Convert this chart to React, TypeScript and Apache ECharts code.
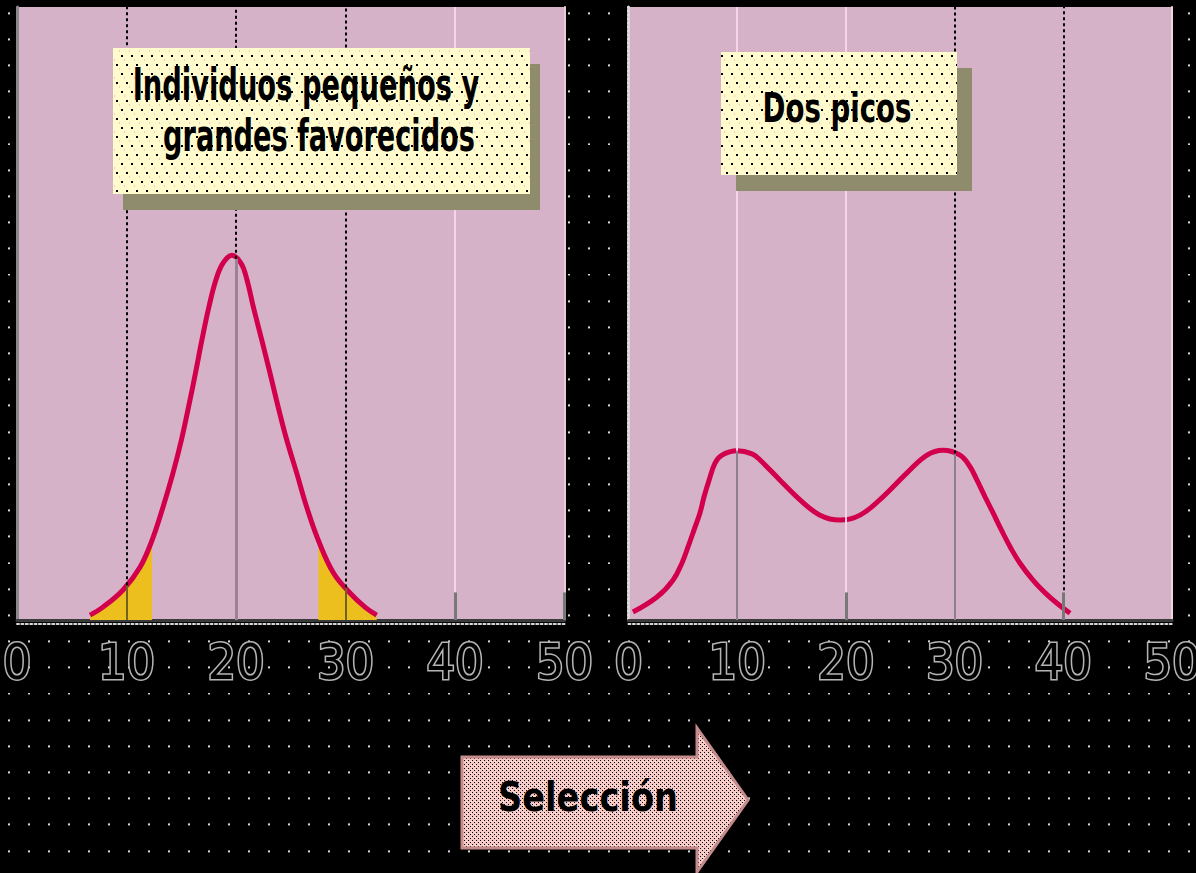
import React, { useEffect, useRef } from "react";
import * as echarts from "echarts";

// ---- data -------------------------------------------------------------
const X_TICKS = [0, 10, 20, 30, 40, 50];
const Y_MAX = 100;

// Starting population: a single peak around 20
const LEFT_X = [6.67, 7.85, 9.68, 11.23, 12.33, 13.33, 14.25, 15.02, 15.66, 16.3, 16.89, 17.53, 18.17, 18.81, 19.63, 20.46, 21.0, 21.58, 22.35, 23.1, 23.86, 24.63, 25.54, 26.46, 27.52, 28.89, 30.41, 31.78, 32.85];
const LEFT_Y = [0.8, 2.1, 4.9, 8.6, 13.0, 18.4, 24.0, 29.4, 34.7, 40.3, 45.7, 51.1, 55.5, 58.2, 59.5, 58.2, 55.5, 51.1, 45.7, 40.3, 34.7, 29.4, 24.0, 18.4, 13.0, 7.7, 4.4, 2.1, 0.8];

// After selection: two peaks near 10 and 30
const RIGHT_X = [0.41, 2.62, 4.09, 4.92, 5.47, 6.03, 6.58, 6.95, 7.41, 7.96, 8.6, 9.98, 11.36, 12.1, 13.94, 15.78, 17.62, 19.46, 21.3, 23.41, 25.62, 27.46, 28.93, 30.5, 31.42, 32.06, 32.8, 33.53, 34.3, 35.15, 36.0, 37.21, 38.4, 39.5, 40.62];
const RIGHT_Y = [1.3, 3.75, 6.5, 9.3, 11.9, 14.7, 17.5, 20.1, 22.8, 25.6, 26.9, 27.6, 27.1, 26.1, 22.8, 19.6, 17.1, 16.3, 17.1, 20.1, 24.0, 26.9, 27.7, 26.9, 25.0, 22.8, 20.1, 17.5, 14.7, 11.8, 9.3, 6.5, 4.3, 2.6, 1.1];

// Tails favoured by selection (shaded)
const FAVOURED_SMALL_MAX = 12.4;
const FAVOURED_LARGE_MIN = 27.5;

const GUIDE_XS = [10, 20, 30, 40];
const LEFT_STUBS = [40, 50];
const RIGHT_STUBS = [20, 40];
const STUB_HEIGHT = 4.5;

const LEFT_TITLE = ["Individuos pequeños y", "grandes favorecidos"];
const RIGHT_TITLE = "Dos picos";
const ARROW_LABEL = "Selección";

// ---- look -------------------------------------------------------------
const NARROW = '"Liberation Sans Narrow", "DejaVu Sans Condensed", "Liberation Sans", sans-serif';
const PANEL_BG = "#d6b2c8";
const CURVE = "#d2004c";
const YELLOW = "#ecbe1e";
const SMOOTH = 0.4;

const DOTTED = { color: "#000000", width: 2, type: [3, 3] };
const PINK = { color: "#f6d4ea", width: 2, type: "solid" };
const GRAY = { color: "#8c8090", width: 2, type: "solid" };
const OLIVE = { color: "#6e6420", width: 2, type: "solid" };
const MAUVE = { color: "#9a8494", width: 3, type: "solid" };
const STUB = { color: "#787878", width: 3, type: "solid" };

const LEFT_GUIDE_STYLE: Record<number, any[]> = { 10: [DOTTED, OLIVE], 20: [DOTTED, MAUVE], 30: [DOTTED, OLIVE], 40: [PINK, PINK] };
const RIGHT_GUIDE_STYLE: Record<number, any[]> = { 10: [PINK, GRAY], 20: [PINK, PINK], 30: [DOTTED, GRAY], 40: [DOTTED, PINK] };

const W = 1196;
const H = 873;
const GRIDS = [
  { left: 17, top: 7, width: 547.5, height: 613 },
  { left: 628.5, top: 7, width: 543.5, height: 613 },
];

const DOT_BG = `url("data:image/svg+xml,${encodeURIComponent(
  "<svg xmlns='http://www.w3.org/2000/svg' width='20' height='26.2'><rect x='8' y='12' width='2' height='2' fill='#d6d6d6'/></svg>"
)}")`;

function tile(w: number, h: number, base: string, dots: [number, number, number, number, string][]) {
  const c = document.createElement("canvas");
  c.width = w;
  c.height = h;
  const g = c.getContext("2d")!;
  g.fillStyle = base;
  g.fillRect(0, 0, w, h);
  dots.forEach(([x, y, dw, dh, col]) => {
    g.fillStyle = col;
    g.fillRect(x, y, dw, dh);
  });
  return { image: c.toDataURL(), repeat: "repeat", imageWidth: w, imageHeight: h };
}

function textWidth(text: string, font: string) {
  const c = document.createElement("canvas").getContext("2d")!;
  c.font = font;
  return c.measureText(text).width;
}

function pairs(xs: number[], ys: number[]) {
  return xs.map((x, i) => [x, ys[i]]);
}

function curveAt(xs: number[], ys: number[], x: number) {
  if (x < xs[0] || x > xs[xs.length - 1]) return 0;
  for (let i = 1; i < xs.length; i++) {
    if (x <= xs[i]) {
      const t = (x - xs[i - 1]) / (xs[i] - xs[i - 1]);
      return ys[i - 1] + t * (ys[i] - ys[i - 1]);
    }
  }
  return 0;
}

function guideLines(xs: number[], ys: number[], styles: Record<number, any[]>, stubs: number[]) {
  const out: any[] = [];
  GUIDE_XS.forEach((gx) => {
    const h = curveAt(xs, ys, gx);
    const [above, below] = styles[gx];
    if (h > 0) out.push([{ coord: [gx, 0], lineStyle: below }, { coord: [gx, h] }]);
    out.push([{ coord: [gx, h], lineStyle: above }, { coord: [gx, Y_MAX] }]);
  });
  stubs.forEach((sx) => out.push([{ coord: [sx, 0], lineStyle: STUB }, { coord: [sx, STUB_HEIGHT] }]));
  return out;
}

function fittedText(text: string, cx: number, cy: number, width: number, size: number) {
  const font = `bold ${size}px ${NARROW}`;
  const s = width / textWidth(text, font);
  return {
    type: "group",
    x: cx,
    y: cy,
    scaleX: s,
    z: 110,
    children: [
      {
        type: "text",
        z: 110,
        style: { text, x: 0, y: 0, font, fill: "#000", align: "center", verticalAlign: "middle", textAlign: "center", textVerticalAlign: "middle" },
      },
    ],
  };
}

function buildOption() {
  const boxFill = tile(10, 18, "#fffbcc", [
    [1, 1, 2, 2, "#000"],
    [6, 10, 2, 2, "#000"],
    [4, 5, 1, 2, "#f6c8c8"],
    [9, 14, 1, 2, "#f6c8c8"],
  ]);
  const arrowFill = tile(4, 4, "#f7c8c8", [
    [0, 0, 1, 1, "#000"],
    [2, 2, 1, 1, "#000"],
    [3, 1, 1, 1, "#fff6d0"],
  ]);

  const axisLabel = {
    show: true,
    margin: 17,
    fontSize: 50,
    fontFamily: NARROW,
    color: "#000",
    textBorderColor: "#b4b4b4",
    textBorderWidth: 3,
    showMinLabel: true,
    showMaxLabel: true,
  };

  const mainX = (gi: number) => ({
    gridIndex: gi,
    type: "value",
    min: X_TICKS[0],
    max: X_TICKS[X_TICKS.length - 1],
    interval: X_TICKS[1] - X_TICKS[0],
    axisLine: { show: true, onZero: false, lineStyle: { color: "#3a3a3a", width: 3 } },
    axisTick: { show: false },
    splitLine: { show: false },
    axisLabel,
  });
  const dashX = (gi: number) => ({
    gridIndex: gi,
    type: "value",
    position: "bottom",
    offset: 4,
    min: X_TICKS[0],
    max: X_TICKS[X_TICKS.length - 1],
    axisLine: { show: true, onZero: false, lineStyle: { color: "#d8d8d8", width: 2, type: [2, 2.4] } },
    axisTick: { show: false },
    splitLine: { show: false },
    axisLabel: { show: false },
  });
  const yAx = (gi: number, position: string, lineStyle: any) => ({
    gridIndex: gi,
    type: "value",
    position,
    min: 0,
    max: Y_MAX,
    axisLine: { show: true, onZero: false, lineStyle },
    axisTick: { show: false },
    splitLine: { show: false },
    axisLabel: { show: false },
  });

  const curveSeries = (xi: number, yi: number, xs: number[], ys: number[]) => ({
    type: "line",
    xAxisIndex: xi,
    yAxisIndex: yi,
    data: pairs(xs, ys),
    smooth: SMOOTH,
    showSymbol: false,
    symbol: "none",
    silent: true,
    z: 4,
    lineStyle: { color: CURVE, width: 5 },
  });
  const guideSeries = (xi: number, yi: number, xs: number[], ys: number[], styles: any, stubs: number[]) => ({
    type: "line",
    xAxisIndex: xi,
    yAxisIndex: yi,
    data: pairs(xs, ys),
    showSymbol: false,
    symbol: "none",
    silent: true,
    z: 3,
    lineStyle: { opacity: 0 },
    markLine: { symbol: ["none", "none"], silent: true, label: { show: false }, animation: false, data: guideLines(xs, ys, styles, stubs) },
  });
  const tailSeries = (data: number[][]) => ({
    type: "line",
    xAxisIndex: 0,
    yAxisIndex: 0,
    data,
    smooth: SMOOTH,
    showSymbol: false,
    symbol: "none",
    silent: true,
    z: 2,
    lineStyle: { width: 0 },
    areaStyle: { color: YELLOW, opacity: 1 },
  });

  const leftPts = pairs(LEFT_X, LEFT_Y);

  // text boxes and arrow
  const box = (x: number, y: number, w: number, h: number, dx: number, dy: number) => [
    { type: "rect", z: 100, shape: { x: x + dx, y: y + dy, width: w, height: h }, style: { fill: "#8e8c6c" } },
    { type: "rect", z: 101, shape: { x, y, width: w, height: h }, style: { fill: boxFill } },
  ];

  const graphic: any[] = [
    ...box(113, 48, 417, 146, 10, 16),
    ...box(721, 52, 236, 123, 15, 16),
    fittedText(LEFT_TITLE[0], 306, 84, 347, 45),
    fittedText(LEFT_TITLE[1], 319, 136, 312, 44),
    fittedText(RIGHT_TITLE, 837, 108, 149, 41),
    {
      type: "polygon",
      z: 100,
      shape: { points: [[462, 757], [697, 757], [697, 728], [748, 800], [697, 872], [697, 848], [462, 848]] },
      style: { fill: arrowFill, stroke: "#c48c8c", lineWidth: 3 },
    },
    fittedText(ARROW_LABEL, 588, 797, 180, 41),
  ];

  return {
    animation: false,
    backgroundColor: "transparent",
    grid: GRIDS.map((g) => ({ ...g, show: true, backgroundColor: PANEL_BG, borderWidth: 0, outerBoundsMode: "none", containLabel: false })),
    xAxis: [mainX(0), mainX(1), dashX(0), dashX(1)],
    yAxis: [
      yAx(0, "left", { color: "#8a8a8a", width: 3 }),
      yAx(0, "right", { color: "#f0cad6", width: 2 }),
      yAx(1, "left", { color: "#dcdcdc", width: 3, type: [2, 2] }),
      yAx(1, "right", { color: "#f0d6de", width: 2 }),
    ],
    series: [
      tailSeries(leftPts.filter(([x]) => x <= FAVOURED_SMALL_MAX)),
      tailSeries(leftPts.filter(([x]) => x >= FAVOURED_LARGE_MIN)),
      guideSeries(0, 0, LEFT_X, LEFT_Y, LEFT_GUIDE_STYLE, LEFT_STUBS),
      curveSeries(0, 0, LEFT_X, LEFT_Y),
      guideSeries(1, 2, RIGHT_X, RIGHT_Y, RIGHT_GUIDE_STYLE, RIGHT_STUBS),
      curveSeries(1, 2, RIGHT_X, RIGHT_Y),
    ],
    graphic,
  };
}

export default function App() {
  const ref = useRef<HTMLDivElement>(null);
  useEffect(() => {
    if (!ref.current) return;
    const chart = echarts.init(ref.current, undefined, { renderer: "svg" });
    chart.setOption(buildOption() as any);
    return () => chart.dispose();
  }, []);
  return (
    <div
      style={{
        position: "fixed",
        left: 0,
        top: 0,
        width: W,
        height: H,
        backgroundColor: "#000",
        backgroundImage: DOT_BG,
        backgroundSize: "20px 26.2px",
      }}
    >
      <div ref={ref} style={{ width: W, height: H }} />
    </div>
  );
}
